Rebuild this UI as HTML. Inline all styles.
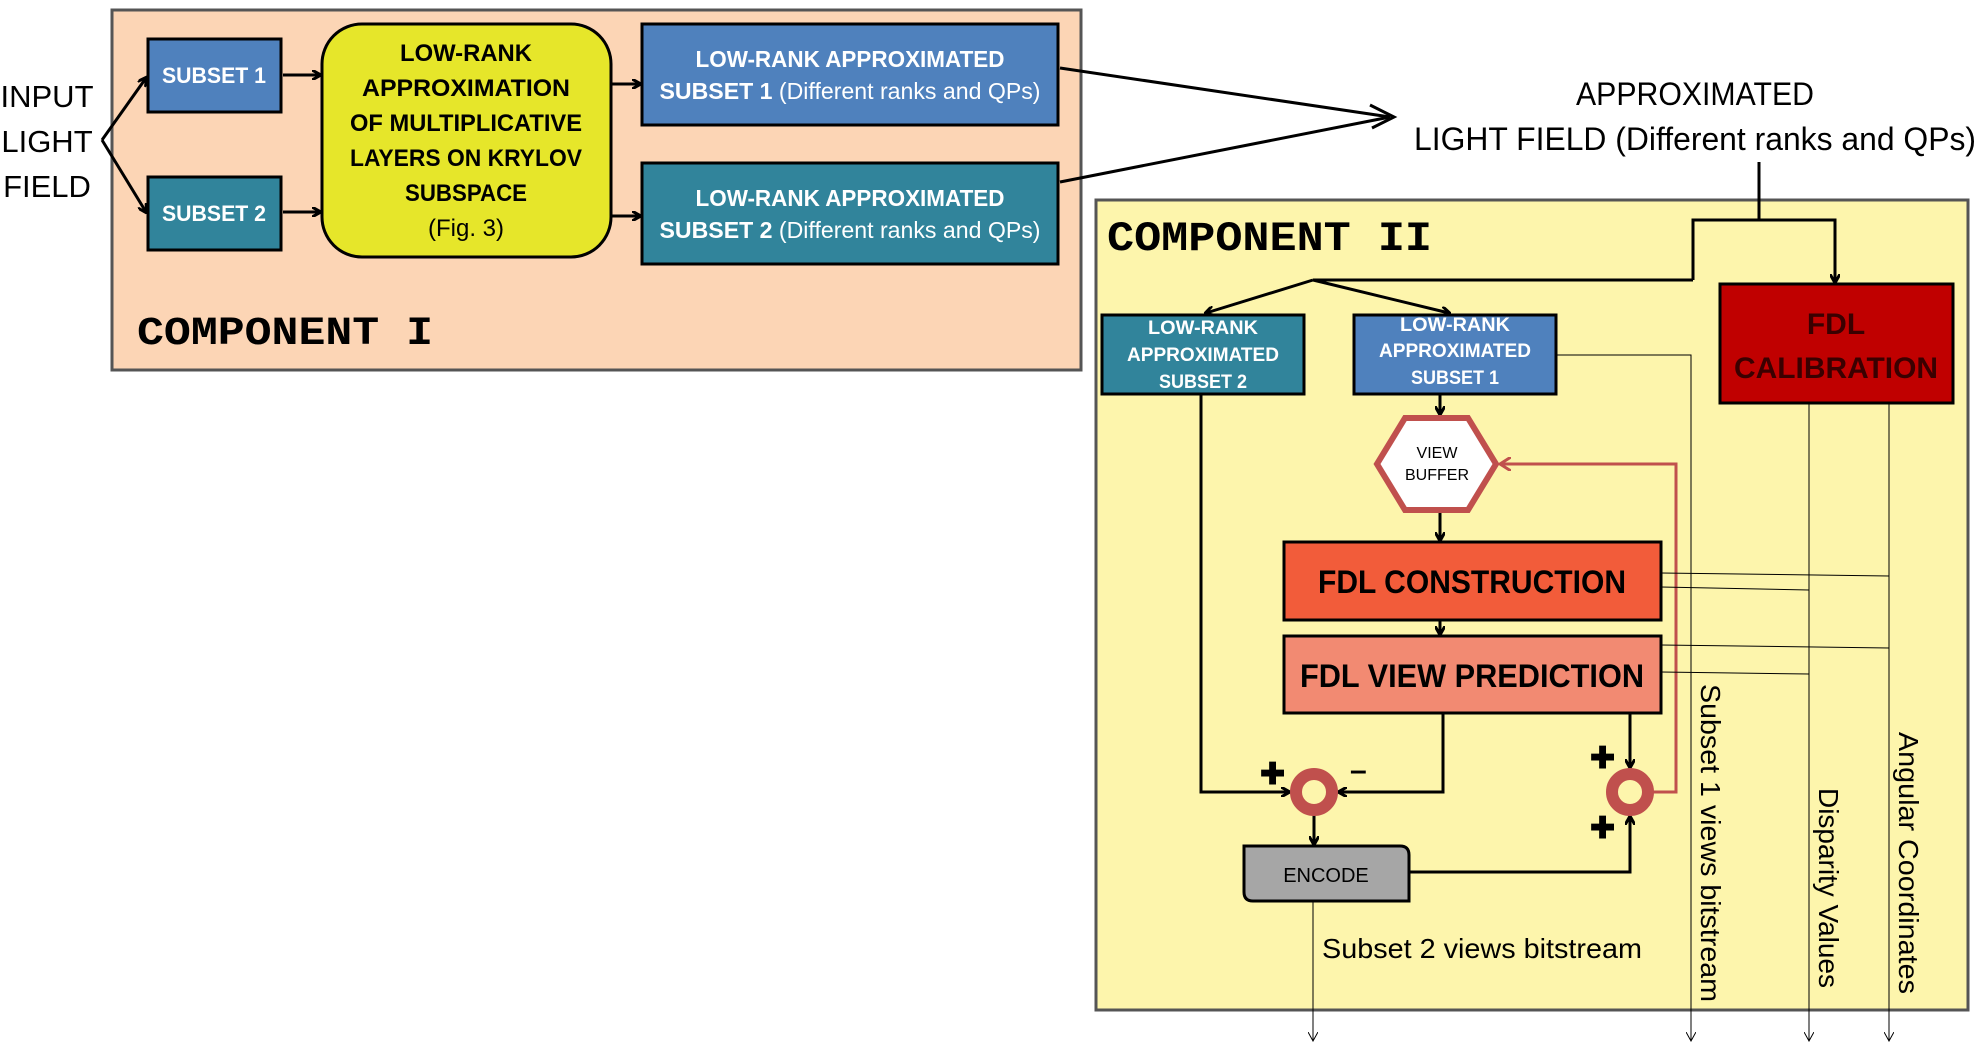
<!DOCTYPE html>
<html><head><meta charset="utf-8"><style>
html,body{margin:0;padding:0;background:#fff;}
svg{display:block;}
.n{font-family:"Liberation Sans Narrow","Liberation Sans",sans-serif;}
.s{font-family:"Liberation Sans",sans-serif;}
.m{font-family:"Liberation Mono",monospace;font-weight:bold;}
</style></head><body>
<svg width="1987" height="1059" viewBox="0 0 1987 1059" xmlns="http://www.w3.org/2000/svg">
<defs>
<marker id="a" markerWidth="10" markerHeight="10" refX="8" refY="5" orient="auto" markerUnits="userSpaceOnUse"><path d="M0,0 L9,5 L0,10" fill="none" stroke="#000" stroke-width="3"/></marker>
<marker id="t" markerWidth="10" markerHeight="10" refX="8" refY="5" orient="auto" markerUnits="userSpaceOnUse"><path d="M0,0 L9,5 L0,10" fill="none" stroke="#000" stroke-width="1"/></marker>
<marker id="r" markerWidth="14" markerHeight="14" refX="10" refY="7" orient="auto" markerUnits="userSpaceOnUse"><path d="M0,0 L11,7 L0,14" fill="none" stroke="#c0504d" stroke-width="3"/></marker>
</defs>
<!-- Component I -->
<rect x="112" y="10" width="969" height="360" fill="#fcd5b5" stroke="#555" stroke-width="3"/>
<text x="47" y="107" class="n" font-size="31" text-anchor="middle">INPUT</text>
<text x="47" y="152" class="n" font-size="31" text-anchor="middle">LIGHT</text>
<text x="47" y="197" class="n" font-size="31" text-anchor="middle">FIELD</text>
<g stroke="#000" stroke-width="3" fill="none" marker-end="url(#a)">
<path d="M102,140 L146,78"/><path d="M102,140 L146,212"/>
<path d="M283,75 L320,75"/><path d="M283,212 L320,212"/>
<path d="M612,84 L640,84"/><path d="M612,216 L640,216"/>
</g>
<g stroke="#000" stroke-width="3" fill="none">
<path d="M1060,68 L1390,117"/><path d="M1060,182 L1390,117"/>
</g>
<path d="M1370,105 L1394,117 L1372,128" fill="none" stroke="#000" stroke-width="3"/>
<rect x="148" y="39" width="133" height="73" fill="#4f81bd" stroke="#000" stroke-width="3"/>
<text x="214" y="83" class="n" font-size="22" font-weight="bold" fill="#fff" text-anchor="middle" textLength="104" lengthAdjust="spacingAndGlyphs">SUBSET 1</text>
<rect x="148" y="177" width="133" height="73" fill="#31849b" stroke="#000" stroke-width="3"/>
<text x="214" y="221" class="n" font-size="22" font-weight="bold" fill="#fff" text-anchor="middle" textLength="104" lengthAdjust="spacingAndGlyphs">SUBSET 2</text>
<rect x="322" y="24" width="289" height="233" rx="40" fill="#e6e62a" stroke="#000" stroke-width="3"/>
<g class="n" font-size="24" font-weight="bold" text-anchor="middle" lengthAdjust="spacingAndGlyphs">
<text x="466" y="61" textLength="132" lengthAdjust="spacingAndGlyphs">LOW-RANK</text><text x="466" y="96" textLength="208" lengthAdjust="spacingAndGlyphs">APPROXIMATION</text><text x="466" y="131" textLength="232" lengthAdjust="spacingAndGlyphs">OF MULTIPLICATIVE</text><text x="466" y="166" textLength="232" lengthAdjust="spacingAndGlyphs">LAYERS ON KRYLOV</text><text x="466" y="201" textLength="122" lengthAdjust="spacingAndGlyphs">SUBSPACE</text><text x="466" y="236" font-weight="normal">(Fig. 3)</text>
</g>
<rect x="642" y="24" width="416" height="101" fill="#4f81bd" stroke="#000" stroke-width="3"/>
<text x="850" y="67" class="n" font-size="23" font-weight="bold" fill="#fff" text-anchor="middle" textLength="309" lengthAdjust="spacingAndGlyphs">LOW-RANK APPROXIMATED</text>
<text x="850" y="99" class="n" font-size="23" fill="#fff" text-anchor="middle" textLength="381" lengthAdjust="spacingAndGlyphs"><tspan font-weight="bold">SUBSET 1</tspan> (Different ranks and QPs)</text>
<rect x="642" y="163" width="416" height="101" fill="#31849b" stroke="#000" stroke-width="3"/>
<text x="850" y="206" class="n" font-size="23" font-weight="bold" fill="#fff" text-anchor="middle" textLength="309" lengthAdjust="spacingAndGlyphs">LOW-RANK APPROXIMATED</text>
<text x="850" y="238" class="n" font-size="23" fill="#fff" text-anchor="middle" textLength="381" lengthAdjust="spacingAndGlyphs"><tspan font-weight="bold">SUBSET 2</tspan> (Different ranks and QPs)</text>
<text x="137" y="344" class="m" font-size="40" textLength="296" lengthAdjust="spacingAndGlyphs">COMPONENT I</text>
<text x="1695" y="105" class="n" font-size="32" text-anchor="middle" textLength="238" lengthAdjust="spacingAndGlyphs">APPROXIMATED</text>
<text x="1695" y="150" class="n" font-size="32" text-anchor="middle" textLength="562" lengthAdjust="spacingAndGlyphs">LIGHT FIELD (Different ranks and QPs)</text>
<!-- Component II -->
<rect x="1096" y="200" width="872" height="810" fill="#fdf5ac" stroke="#555" stroke-width="3"/>
<text x="1107" y="250" class="m" font-size="42" textLength="325" lengthAdjust="spacingAndGlyphs">COMPONENT II</text>
<g stroke="#000" stroke-width="3" fill="none">
<path d="M1759,162 L1759,220"/>
<path d="M1693,280 L1693,220 L1835,220 L1835,282" marker-end="url(#a)"/>
<path d="M1693,280 L1313,280"/>
<path d="M1313,280 L1206,313" marker-end="url(#a)"/>
<path d="M1313,280 L1449,313" marker-end="url(#a)"/>
<path d="M1440,394 L1440,414" marker-end="url(#a)"/>
<path d="M1440,512 L1440,540" marker-end="url(#a)"/>
<path d="M1440,620 L1440,634" marker-end="url(#a)"/>
<path d="M1201,394 L1201,792 L1289,792" marker-end="url(#a)"/>
<path d="M1443,713 L1443,792 L1339,792" marker-end="url(#a)"/>
<path d="M1630,713 L1630,767" marker-end="url(#a)"/>
<path d="M1409,872 L1630,872 L1630,817" marker-end="url(#a)"/>
<path d="M1314,815 L1314,844" marker-end="url(#a)"/>
</g>
<path d="M1653,792 L1676,792 L1676,464 L1501,464" fill="none" stroke="#c0504d" stroke-width="3" marker-end="url(#r)"/>
<g stroke="#000" stroke-width="1" fill="none">
<path d="M1556,355 L1691,355 L1691,1040" marker-end="url(#t)"/>
<path d="M1809,403 L1809,1040" marker-end="url(#t)"/>
<path d="M1889,403 L1889,1040" marker-end="url(#t)"/>
<path d="M1313,901 L1313,1040" marker-end="url(#t)"/>
<path d="M1661,573 L1889,576"/><path d="M1661,587 L1809,590"/>
<path d="M1661,645 L1889,648"/><path d="M1661,672 L1809,674"/>
</g>
<rect x="1102" y="315" width="202" height="79" fill="#31849b" stroke="#000" stroke-width="3"/>
<g class="n" font-size="19" font-weight="bold" fill="#fff" text-anchor="middle">
<text x="1203" y="334" textLength="110" lengthAdjust="spacingAndGlyphs">LOW-RANK</text><text x="1203" y="361" textLength="152" lengthAdjust="spacingAndGlyphs">APPROXIMATED</text><text x="1203" y="388" textLength="88" lengthAdjust="spacingAndGlyphs">SUBSET 2</text></g>
<rect x="1354" y="315" width="202" height="79" fill="#4f81bd" stroke="#000" stroke-width="3"/>
<g class="n" font-size="19" font-weight="bold" fill="#fff" text-anchor="middle">
<text x="1455" y="331" textLength="110" lengthAdjust="spacingAndGlyphs">LOW-RANK</text><text x="1455" y="357" textLength="152" lengthAdjust="spacingAndGlyphs">APPROXIMATED</text><text x="1455" y="384" textLength="88" lengthAdjust="spacingAndGlyphs">SUBSET 1</text></g>
<rect x="1720" y="284" width="233" height="119" fill="#c00000" stroke="#000" stroke-width="3"/>
<text x="1836" y="334" class="n" font-size="30" font-weight="bold" fill="#3a0000" text-anchor="middle">FDL</text>
<text x="1836" y="378" class="n" font-size="30" font-weight="bold" fill="#3a0000" text-anchor="middle" textLength="204" lengthAdjust="spacingAndGlyphs">CALIBRATION</text>
<polygon points="1405,418 1468,418 1496,464 1468,510 1405,510 1377,464" fill="#fff" stroke="#c0504d" stroke-width="6"/>
<text x="1437" y="458" class="n" font-size="16" text-anchor="middle">VIEW</text>
<text x="1437" y="480" class="n" font-size="16" text-anchor="middle">BUFFER</text>
<rect x="1284" y="542" width="377" height="78" fill="#f25c3a" stroke="#000" stroke-width="3"/>
<text x="1472" y="593" class="n" font-size="32" font-weight="bold" text-anchor="middle" textLength="308" lengthAdjust="spacingAndGlyphs">FDL CONSTRUCTION</text>
<rect x="1284" y="636" width="377" height="77" fill="#f28a72" stroke="#000" stroke-width="3"/>
<text x="1472" y="687" class="n" font-size="32" font-weight="bold" text-anchor="middle" textLength="344" lengthAdjust="spacingAndGlyphs">FDL VIEW PREDICTION</text>
<circle cx="1314" cy="792" r="18" fill="none" stroke="#c0504d" stroke-width="12"/>
<circle cx="1630" cy="792" r="18" fill="none" stroke="#c0504d" stroke-width="12"/>
<g class="s" font-size="30" font-weight="bold">
<text x="1260" y="784">✚</text><text x="1350" y="780">–</text>
<text x="1590" y="768">✚</text><text x="1590" y="838">✚</text></g>
<path d="M1244,846 L1400,846 Q1409,846 1409,855 L1409,901 L1253,901 Q1244,901 1244,892 Z" fill="#a6a6a6" stroke="#000" stroke-width="3"/>
<text x="1326" y="882" class="n" font-size="20" text-anchor="middle">ENCODE</text>
<text x="1322" y="958" class="n" font-size="28" textLength="320" lengthAdjust="spacingAndGlyphs">Subset 2 views bitstream</text>
<g class="s" font-size="28">
<text transform="translate(1701,684) rotate(90)" textLength="318" lengthAdjust="spacingAndGlyphs">Subset 1 views bitstream</text>
<text transform="translate(1819,788) rotate(90)" textLength="200" lengthAdjust="spacingAndGlyphs">Disparity Values</text>
<text transform="translate(1899,732) rotate(90)" textLength="262" lengthAdjust="spacingAndGlyphs">Angular Coordinates</text>
</g>
</svg>
</body></html>
